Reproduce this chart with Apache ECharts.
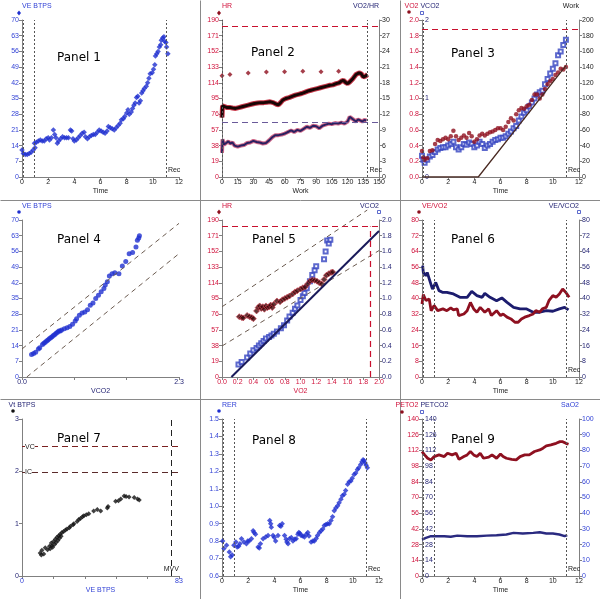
<!DOCTYPE html>
<html><head><meta charset="utf-8">
<script src="https://cdn.jsdelivr.net/npm/echarts@6/dist/echarts.min.js"></script>
<style>html,body{margin:0;padding:0;background:#fff}#c{width:600px;height:599px}</style>
</head><body><div id="c"></div>
<script>
// ---------------- DATA ----------------
// Panel 1: time (min) vs VE BTPS
const p1VE = [[0.0,12],[0.1,10.5],[0.25,10],[0.4,10],[0.55,10.5],[0.7,11],[0.85,12],[0.95,15],[1.0,13],[1.1,15.5],[1.25,16],[1.4,16.5],[1.55,16],[1.7,16],[1.85,17],[2.0,17.5],[2.1,16.5],[2.25,17.5],[2.4,21],[2.5,19],[2.6,17.5],[2.7,15],[2.8,16],[2.95,17],[3.1,18],[3.25,17.5],[3.4,17.5],[3.55,17.5],[3.7,21],[3.8,20.5],[3.9,17],[4.0,16],[4.15,16.5],[4.3,17.5],[4.45,18.5],[4.6,19.5],[4.75,20],[4.85,18],[5.0,17],[5.15,18],[5.3,18.5],[5.45,19],[5.6,19],[5.75,20],[5.9,21],[6.05,20.5],[6.2,20],[6.35,19.5],[6.5,20.5],[6.6,22.5],[6.75,22],[6.9,21.5],[7.05,21],[7.2,22],[7.35,23],[7.5,24],[7.6,25.5],[7.75,26],[7.85,27],[8.0,28.5],[8.1,30],[8.2,28],[8.35,29],[8.45,30.5],[8.55,32],[8.65,33],[8.75,35.5],[8.85,36],[8.95,33],[9.05,34],[9.15,37.5],[9.25,38.5],[9.35,39.5],[9.5,40.5],[9.6,42],[9.7,44],[9.8,46],[9.95,46.5],[10.05,48],[10.15,50],[10.2,54],[10.3,55],[10.4,56],[10.5,58],[10.6,59],[10.65,61],[10.75,62],[10.85,62.5],[10.9,60.5],[11.0,60],[11.05,58],[11.15,55]];
const p1Marks = [0.08, 0.95, 11.0];

// Panel 2: work vs HR, VO2/HR, and HR marker diamonds
const p2HR = [[0,72],[0.5,86],[2,84],[5,84],[8,84],[10,83.5],[13,83],[16,84],[19,85],[22,86],[25,87],[28,88],[31,89],[34,89.5],[37,90],[40,90],[43,90.5],[46,91],[49,90],[52,88],[54,87.5],[56,90],[58,93],[61,95],[64,96],[67,97.5],[70,99],[73,100],[76,101],[79,102.5],[82,104],[85,105],[88,106],[91,107],[94,108],[97,109],[100,110],[103,111],[106,111.5],[109,113],[112,114],[114,116],[116,117],[118,114.5],[120,113],[122,115],[125,119],[128,124],[131,126],[133,125],[135,121],[137,122],[139,124]];
const p2VO2HR = [[0,4.6],[0.5,7.2],[2,6.2],[4,6.5],[6,6.8],[8,6.4],[10,6.6],[12,6.0],[15,5.8],[18,6.0],[21,6.1],[24,6.5],[27,6.6],[30,6.9],[33,6.7],[36,6.6],[39,6.4],[42,6.5],[45,7.0],[48,7.6],[51,8.0],[54,8.0],[57,8.1],[60,8.3],[63,8.6],[66,8.9],[69,8.6],[72,9.0],[75,8.8],[78,9.2],[81,9.6],[84,9.4],[87,9.8],[90,9.7],[93,9.3],[96,9.8],[99,10.0],[102,10.2],[105,10.1],[108,10.3],[111,10.2],[114,10.4],[117,10.2],[120,10.6],[122,11.5],[124,11.2],[126,10.9],[128,10.6],[130,11.0],[132,10.8],[134,10.6],[136,10.9],[138,10.8]];
const p2Diamonds = [[0,122.5],[7.6,124],[25,126],[42.4,127],[59.8,127.5],[77.2,128],[94.6,127.5],[111.4,128]];
const p2HRMax = 182, p2VO2HRRef = 10.5, p2Marks = [0.5, 139];

// Panel 3: time vs VO2, VCO2, Work
const p3VO2 = [[0,0.33],[0.1,0.25],[0.2,0.22],[0.4,0.24],[0.6,0.33],[0.8,0.34],[1.0,0.42],[1.2,0.47],[1.4,0.46],[1.6,0.48],[1.8,0.50],[2.0,0.48],[2.2,0.52],[2.4,0.59],[2.6,0.52],[2.8,0.47],[3.0,0.50],[3.2,0.53],[3.4,0.50],[3.6,0.56],[3.8,0.52],[4.0,0.45],[4.2,0.48],[4.4,0.53],[4.6,0.55],[4.8,0.53],[5.0,0.55],[5.2,0.57],[5.4,0.58],[5.6,0.60],[5.8,0.62],[6.0,0.62],[6.2,0.60],[6.4,0.64],[6.6,0.70],[6.8,0.75],[7.0,0.72],[7.2,0.80],[7.4,0.85],[7.6,0.88],[7.8,0.87],[8.0,0.90],[8.2,0.92],[8.4,0.98],[8.6,1.05],[8.8,1.05],[9.0,1.00],[9.2,1.05],[9.4,1.12],[9.6,1.18],[9.8,1.22],[10.0,1.25],[10.2,1.30],[10.4,1.33],[10.6,1.38],[10.8,1.37],[11.0,1.40]];
const p3VCO2 = [[0,0.27],[0.1,0.22],[0.2,0.18],[0.4,0.22],[0.6,0.26],[0.8,0.28],[1.0,0.32],[1.2,0.35],[1.4,0.37],[1.6,0.38],[1.8,0.38],[2.0,0.40],[2.2,0.42],[2.4,0.45],[2.6,0.38],[2.8,0.35],[3.0,0.38],[3.2,0.42],[3.4,0.41],[3.6,0.44],[3.8,0.42],[4.0,0.38],[4.2,0.40],[4.4,0.45],[4.6,0.42],[4.8,0.37],[5.0,0.40],[5.2,0.42],[5.4,0.45],[5.6,0.47],[5.8,0.48],[6.0,0.50],[6.2,0.50],[6.4,0.52],[6.6,0.55],[6.8,0.58],[7.0,0.62],[7.2,0.65],[7.4,0.72],[7.6,0.77],[7.8,0.82],[8.0,0.85],[8.2,0.90],[8.4,0.95],[8.6,1.00],[8.8,1.05],[9.0,1.08],[9.2,1.10],[9.4,1.18],[9.6,1.25],[9.8,1.32],[10.0,1.38],[10.2,1.45],[10.4,1.55],[10.6,1.60],[10.8,1.68],[11.0,1.75]];
const p3Work = [[0,0],[4.3,0],[11,142]];
const p3VO2Max = 1.88, p3Marks = [0.08, 11.0];

// Panel 4: VCO2 vs VE BTPS
const p4VE = [[0.14,10],[0.17,10.5],[0.2,11],[0.24,12.5],[0.26,13],[0.3,14.5],[0.32,15],[0.34,15.5],[0.36,16],[0.38,16.5],[0.4,17],[0.42,17.5],[0.44,18],[0.46,18.5],[0.48,19],[0.5,19.5],[0.52,20],[0.54,20.5],[0.56,20.5],[0.58,21],[0.62,21.5],[0.66,22],[0.7,22.5],[0.74,23.5],[0.78,25],[0.8,26],[0.84,27.5],[0.88,28.5],[0.92,29],[0.96,30],[1.0,32],[1.04,33],[1.08,35],[1.12,36.5],[1.16,38],[1.2,39.5],[1.22,41],[1.25,42.5],[1.28,45],[1.32,46],[1.36,46.5],[1.42,46],[1.47,49.5],[1.52,51.5],[1.57,55],[1.62,55.5],[1.67,58],[1.69,61],[1.71,62],[1.72,63]];
const p4RefUpper = [[0,12.5],[2.3,68.5]];
const p4RefLower = [[0.07,0],[2.3,55]];

// Panel 5: VO2 vs HR and VCO2
const p5HR = [[0.22,73],[0.25,72],[0.27,71.5],[0.32,74.5],[0.35,73],[0.38,72],[0.4,70.5],[0.44,80],[0.46,84],[0.48,86],[0.5,83],[0.52,85],[0.54,82],[0.56,86],[0.58,84],[0.6,85],[0.62,87],[0.64,84],[0.66,88],[0.7,92],[0.74,91],[0.77,93.5],[0.8,95],[0.83,96.5],[0.86,98],[0.9,100.5],[0.93,103],[0.96,104.5],[1.0,106.5],[1.03,108],[1.06,109],[1.09,112.5],[1.12,116],[1.15,117.5],[1.18,117],[1.21,116],[1.24,114],[1.27,112.5],[1.3,118],[1.33,123],[1.36,125],[1.39,126.5],[1.41,127]];
const p5VCO2 = [[0.21,0.16],[0.25,0.19],[0.32,0.25],[0.36,0.3],[0.4,0.34],[0.44,0.37],[0.47,0.4],[0.5,0.43],[0.53,0.46],[0.56,0.49],[0.6,0.51],[0.63,0.53],[0.66,0.55],[0.7,0.58],[0.75,0.62],[0.79,0.66],[0.83,0.72],[0.86,0.77],[0.9,0.82],[0.93,0.87],[0.96,0.91],[1.0,0.98],[1.03,1.03],[1.05,1.07],[1.08,1.13],[1.12,1.22],[1.15,1.3],[1.18,1.36],[1.2,1.41],[1.3,1.5],[1.32,1.6],[1.34,1.74],[1.36,1.7],[1.38,1.75]];
const p5RefUpper = [[0,85],[1.85,202]];
const p5RefLower = [[0,37.5],[2.0,153]];
const p5Unity = [[0.12,0],[2.0,1.86]];
const p5HRMax = 182, p5VO2Max = 1.89;

// Panel 6: time vs VE/VO2, VE/VCO2
const p6VEVO2 = [[0,37.2],[0.1,42],[0.3,39],[0.55,39.8],[0.7,33.8],[0.93,36.4],[1.2,33.8],[1.6,34.7],[1.9,33.8],[2.2,35.2],[2.4,34.2],[2.7,34.7],[2.8,31.3],[3.2,32.1],[3.45,33.8],[3.7,38],[3.95,34.7],[4.2,33],[4.45,35.5],[4.8,33],[5.1,34.7],[5.3,31.3],[5.7,33.8],[6.0,31.3],[6.2,32.1],[6.5,30.5],[6.8,29.6],[7.1,27.9],[7.35,27.9],[7.6,29.6],[7.85,30.5],[8.2,31.3],[8.5,32.1],[8.7,33.8],[9.0,33],[9.2,34.7],[9.5,35.5],[9.7,38.9],[10.0,41.5],[10.25,40.6],[10.5,42.3],[10.75,44.8],[11.0,43.1],[11.25,40.6]];
const p6VEVCO2 = [[0.05,56.7],[0.1,53.3],[0.3,51.6],[0.4,53.3],[0.6,49],[0.8,44.8],[1.05,48.2],[1.3,44],[1.6,43.1],[1.9,43.1],[2.4,42.3],[2.9,40.6],[3.45,40.6],[3.8,43.6],[4.2,41.5],[4.6,40.6],[4.8,42.6],[5.2,40.6],[5.7,38.9],[6.1,40.3],[6.5,38],[7.0,35.5],[7.5,34.7],[8.0,34.7],[8.5,33],[9.0,33],[9.5,33.8],[10.0,33.5],[10.5,34.7],[10.9,35.5],[11.2,34.2]];
const p6Marks = [0.08, 0.95, 11.0];

// Panel 7: VE BTPS vs Vt BTPS
const p7Vt = [[9.6,0.44],[10.2,0.4],[10.5,0.49],[11.5,0.42],[12.3,0.54],[13.5,0.5],[14.5,0.57],[14.9,0.52],[15.5,0.63],[15.8,0.58],[16.2,0.55],[16.7,0.66],[17.2,0.6],[17.6,0.7],[18,0.64],[18.5,0.74],[19,0.68],[19.4,0.77],[19.8,0.72],[20.2,0.8],[20.7,0.76],[21.1,0.83],[22,0.85],[23,0.88],[23.8,0.9],[25,0.92],[25.6,0.95],[27,0.98],[27.4,1.0],[29.1,1.04],[30,1.08],[30.9,1.1],[32,1.13],[32.7,1.15],[34,1.17],[35.3,1.19],[37.9,1.24],[39.8,1.27],[41.6,1.24],[45.1,1.3],[45.5,1.33],[49.5,1.43],[51,1.44],[52.2,1.47],[54,1.53],[55,1.52],[56.6,1.51],[59.3,1.5],[61.1,1.47],[62,1.45]];
const p7VC = 2.47, p7IC = 1.98, p7MVV = 78.9;

// Panel 8: time vs RER
const p8RER = [[0.05,0.80],[0.15,0.757],[0.35,0.776],[0.56,0.738],[0.66,0.71],[0.78,0.72],[0.91,0.776],[1.06,0.795],[1.16,0.766],[1.27,0.77],[1.37,0.785],[1.49,0.814],[1.67,0.795],[1.87,0.785],[1.97,0.80],[2.08,0.80],[2.25,0.814],[2.38,0.86],[2.45,0.85],[2.56,0.84],[2.76,0.766],[2.85,0.76],[2.94,0.785],[3.14,0.814],[3.34,0.823],[3.52,0.832],[3.65,0.918],[3.72,0.9],[3.77,0.88],[3.9,0.832],[4.0,0.82],[4.1,0.80],[4.28,0.832],[4.4,0.89],[4.5,0.885],[4.6,0.90],[4.78,0.832],[4.9,0.81],[4.96,0.795],[5.05,0.785],[5.16,0.814],[5.3,0.82],[5.42,0.80],[5.55,0.81],[5.67,0.814],[5.8,0.84],[5.87,0.85],[5.95,0.845],[6.05,0.832],[6.18,0.83],[6.3,0.823],[6.45,0.84],[6.56,0.85],[6.65,0.83],[6.81,0.795],[6.95,0.80],[7.06,0.80],[7.2,0.815],[7.3,0.832],[7.45,0.85],[7.57,0.86],[7.7,0.87],[7.82,0.89],[7.95,0.895],[8.08,0.90],[8.2,0.90],[8.33,0.918],[8.45,0.94],[8.58,0.974],[8.7,0.99],[8.84,1.003],[8.95,1.02],[9.09,1.04],[9.2,1.06],[9.34,1.069],[9.45,1.09],[9.6,1.126],[9.72,1.14],[9.85,1.145],[9.95,1.16],[10.1,1.182],[10.22,1.19],[10.35,1.21],[10.45,1.22],[10.6,1.239],[10.7,1.255],[10.78,1.267],[10.86,1.26],[10.94,1.248],[11.02,1.235],[11.11,1.22]];
const p8Marks = [0.08, 0.95, 11.0];

// Panel 9: time vs PETO2, PETCO2
const p9PETO2 = [[0,111],[0.2,108],[0.43,105],[0.68,103.5],[0.93,106.5],[1.3,108],[1.7,106.5],[1.95,109.5],[2.3,108],[2.6,109.5],[2.83,104],[3.2,106.5],[3.45,108],[3.7,111],[3.95,108],[4.2,106.5],[4.45,109.5],[4.7,105],[5.1,106],[5.35,108],[5.7,105],[6.0,108.8],[6.2,106.5],[6.45,105],[6.85,104],[7.2,103.5],[7.5,106.5],[7.85,108],[8.2,108],[8.6,111],[9.0,112.4],[9.25,114],[9.5,116],[9.85,116.9],[10.25,118.3],[10.55,119.8],[10.75,119.8],[11.0,118.3],[11.2,117.5]];
const p9PETCO2 = [[0,32.5],[0.3,34],[0.68,35.5],[1.2,35.5],[1.7,35.5],[2.2,35],[2.7,36],[3.45,35.5],[4.2,35.5],[4.95,36],[5.7,36.4],[6.45,37],[7.0,38.5],[7.7,37.9],[8.5,38.5],[9.0,39],[9.5,37.9],[10.0,37.9],[10.5,37],[10.9,35.5],[11.1,36.4]];
const p9Marks = [0.08, 0.95, 11.0];

// ---------------- STYLE / BUILD ----------------
const FF = 'Liberation Sans, Arial, sans-serif';
const AX = '#808080', RED = '#d0103a', BLUE = '#3343d6', NAVY = '#1e1e70', DARK = '#222', DRED = '#8e0f1e', SQB = '#3444c0';
const rowY = [0, 200, 399], colX = [0, 200, 400];
const grids = [], xAxes = [], yAxes = [], series = [];

function addGrid(c, r) {
  grids.push({left: colX[c] + 22, top: rowY[r] + 20, width: 157, height: 157, outerBoundsMode: 'none', containLabel: false});
  return grids.length - 1;
}
function lab(color, extra) { return Object.assign({fontSize: 7, fontFamily: FF, color: color, margin: 3}, extra || {}); }
function xAx(g, min, max, interval, name, lc, nc, extra) {
  xAxes.push(Object.assign({
    type: 'value', gridIndex: g, min, max, interval, name,
    nameLocation: 'middle', nameGap: 11,
    nameTextStyle: {fontSize: 7, fontFamily: FF, color: nc, verticalAlign: 'top'},
    axisLine: {show: true, onZero: false, lineStyle: {color: AX, width: 1}},
    axisTick: {show: true, length: 3, lineStyle: {color: AX}},
    axisLabel: lab(lc, {margin: 2}),
    splitLine: {show: false}
  }, extra || {}));
  return xAxes.length - 1;
}
function yAx(g, min, max, interval, name, lc, nc, pos, align, extra) {
  yAxes.push(Object.assign({
    type: 'value', gridIndex: g, min, max, interval, name, position: pos,
    nameLocation: 'end', nameGap: 14,
    nameTextStyle: {fontSize: 7, fontFamily: FF, color: nc, align: align, verticalAlign: 'middle'},
    axisLine: {show: true, onZero: false, lineStyle: {color: AX, width: 1}},
    axisTick: {show: true, length: 3, lineStyle: {color: AX}},
    axisLabel: lab(lc),
    splitLine: {show: false}
  }, extra || {}));
  return yAxes.length - 1;
}
const DOT = {type: [2, 2], color: '#555', width: 1};
const RDASH = {type: [6, 4], color: '#c8102e', width: 1.2};
function vMarks(xs, style) { return xs.map(v => ({xAxis: v, lineStyle: style || DOT})); }
function ml(data) { return {silent: true, symbol: ['none', 'none'], animation: false, label: {show: false}, data: data}; }
function add(s) { series.push(Object.assign({animation: false, silent: true}, s)); return series[series.length - 1]; }
const fix1 = v => v.toFixed(1);

// Panel 1
const g1 = addGrid(0, 0);
const x1 = xAx(g1, 0, 12, 2, 'Time', DARK, DARK);
const y1 = yAx(g1, 0, 70, 7, 'VE BTPS', BLUE, BLUE, 'left', 'left');
add({type: 'scatter', xAxisIndex: x1, yAxisIndex: y1, data: p1VE, symbol: 'diamond', symbolSize: 5.5, itemStyle: {color: '#1f2fd0'}, markLine: ml(vMarks(p1Marks))});

// Panel 2
const g2 = addGrid(1, 0);
const x2 = xAx(g2, 0, 150, 15, 'Work', DARK, DARK);
const y2L = yAx(g2, 0, 190, 19, 'HR', RED, RED, 'left', 'left');
const y2R = yAx(g2, 0, 30, 3, 'VO2/HR', DARK, NAVY, 'right', 'right');
add({type: 'line', xAxisIndex: x2, yAxisIndex: y2L, data: p2HR, showSymbol: false, lineStyle: {color: '#c8384a', width: 5},
  markLine: ml([{yAxis: p2HRMax, lineStyle: RDASH}].concat(vMarks(p2Marks)))});
add({type: 'line', xAxisIndex: x2, yAxisIndex: y2L, data: p2HR, showSymbol: false, lineStyle: {color: '#1a0505', width: 3}});
add({type: 'line', xAxisIndex: x2, yAxisIndex: y2R, data: p2VO2HR, showSymbol: false, lineStyle: {color: '#d06a8a', width: 4},
  markLine: ml([{yAxis: p2VO2HRRef, lineStyle: {type: [6, 4], color: '#6a5a9a', width: 1.2}}])});
add({type: 'line', xAxisIndex: x2, yAxisIndex: y2R, data: p2VO2HR, showSymbol: false, lineStyle: {color: '#2a2060', width: 2}});
add({type: 'scatter', xAxisIndex: x2, yAxisIndex: y2L, data: p2Diamonds, symbol: 'diamond', symbolSize: 5, itemStyle: {color: DRED}});

// Panel 3
const g3 = addGrid(2, 0);
const x3 = xAx(g3, 0, 12, 2, 'Time', DARK, DARK);
const y3L = yAx(g3, 0, 2, 0.2, '{a|VO2} {b|VCO2}', RED, RED, 'left', 'center', {axisLabel: lab(RED, {formatter: fix1})});
yAxes[y3L].nameTextStyle.rich = {a: {fontSize: 7, fontFamily: FF, color: RED}, b: {fontSize: 7, fontFamily: FF, color: NAVY}};
const y3V = yAx(g3, 0, 2, 1, '', NAVY, NAVY, 'left', 'left', {axisLine: {show: false}, axisTick: {show: true, inside: true, length: 2, lineStyle: {color: AX}}, axisLabel: lab(NAVY, {inside: true, margin: 3})});
const y3R = yAx(g3, 0, 200, 20, 'Work', DARK, DARK, 'right', 'right');
add({type: 'line', xAxisIndex: x3, yAxisIndex: y3R, data: p3Work, showSymbol: false, lineStyle: {color: '#4a2a22', width: 1.3},
  markLine: ml(vMarks(p3Marks))});
add({type: 'scatter', xAxisIndex: x3, yAxisIndex: y3V, data: p3VCO2, symbol: 'emptyRect', symbolSize: 4, itemStyle: {color: SQB, borderColor: SQB, borderWidth: 1}});
add({type: 'scatter', xAxisIndex: x3, yAxisIndex: y3L, data: p3VO2, symbol: 'circle', symbolSize: 4.5, itemStyle: {color: DRED},
  markLine: ml([{yAxis: p3VO2Max, lineStyle: RDASH}])});

// Panel 4
const g4 = addGrid(0, 1);
const x4 = xAx(g4, 0, 2.3, 2.3 / 3, 'VCO2', NAVY, NAVY, {axisLabel: lab(NAVY, {margin: 2, formatter: v => (Math.abs(v) < 1e-6 ? '0.0' : (Math.abs(v - 2.3) < 1e-3 ? '2.3' : ''))})});
const y4 = yAx(g4, 0, 70, 7, 'VE BTPS', BLUE, BLUE, 'left', 'left');
const REFDASH = {type: [5, 4], color: '#6b5b50', width: 1};
add({type: 'line', xAxisIndex: x4, yAxisIndex: y4, data: p4RefUpper, showSymbol: false, lineStyle: REFDASH});
add({type: 'line', xAxisIndex: x4, yAxisIndex: y4, data: p4RefLower, showSymbol: false, lineStyle: REFDASH});
add({type: 'scatter', xAxisIndex: x4, yAxisIndex: y4, data: p4VE, symbol: 'circle', symbolSize: 5, itemStyle: {color: '#1f2fd0'}});

// Panel 5
const g5 = addGrid(1, 1);
const x5 = xAx(g5, 0, 2, 0.2, 'VO2', RED, RED, {axisLabel: lab(RED, {margin: 2, formatter: fix1})});
const y5L = yAx(g5, 0, 190, 19, 'HR', RED, RED, 'left', 'left');
const y5R = yAx(g5, 0, 2, 0.2, 'VCO2', NAVY, NAVY, 'right', 'right', {axisLabel: lab(NAVY, {formatter: fix1})});
add({type: 'line', xAxisIndex: x5, yAxisIndex: y5L, data: p5RefUpper, showSymbol: false, clip: false, lineStyle: REFDASH,
  markLine: ml([{yAxis: p5HRMax, lineStyle: RDASH}, [{coord: [p5VO2Max, 0], lineStyle: RDASH}, {coord: [p5VO2Max, p5HRMax]}]])});
add({type: 'line', xAxisIndex: x5, yAxisIndex: y5L, data: p5RefLower, showSymbol: false, lineStyle: REFDASH});
add({type: 'line', xAxisIndex: x5, yAxisIndex: y5R, data: p5Unity, showSymbol: false, lineStyle: {color: '#1a1a5a', width: 2}});
add({type: 'scatter', xAxisIndex: x5, yAxisIndex: y5R, data: p5VCO2, symbol: 'emptyRect', symbolSize: 4, itemStyle: {color: SQB, borderColor: SQB, borderWidth: 1}});
add({type: 'scatter', xAxisIndex: x5, yAxisIndex: y5L, data: p5HR, symbol: 'diamond', symbolSize: 6, itemStyle: {color: '#3a0508', borderColor: '#d04050', borderWidth: 0.8}});

// Panel 6
const g6 = addGrid(2, 1);
const x6 = xAx(g6, 0, 12, 2, 'Time', DARK, DARK);
const y6L = yAx(g6, 0, 80, 8, 'VE/VO2', RED, RED, 'left', 'left');
const y6R = yAx(g6, 0, 80, 8, 'VE/VCO2', NAVY, NAVY, 'right', 'right');
add({type: 'line', xAxisIndex: x6, yAxisIndex: y6R, data: p6VEVCO2, showSymbol: false, lineStyle: {color: '#1c1c6e', width: 2.8}, markLine: ml(vMarks(p6Marks))});
add({type: 'line', xAxisIndex: x6, yAxisIndex: y6L, data: p6VEVO2, showSymbol: false, lineStyle: {color: '#8e1020', width: 2.8}});

// Panel 7
const g7 = addGrid(0, 2);
const x7 = xAx(g7, 0, 83, 16.6, 'VE BTPS', BLUE, BLUE, {axisLabel: lab(BLUE, {margin: 2, formatter: v => (v === 0 ? '0' : (Math.abs(v - 83) < 1e-3 ? '83' : ''))})});
const y7 = yAx(g7, 0, 3, 1, 'Vt BTPS', NAVY, NAVY, 'left', 'center');
add({type: 'scatter', xAxisIndex: x7, yAxisIndex: y7, data: p7Vt, symbol: 'diamond', symbolSize: 5, itemStyle: {color: '#111'},
  markLine: ml([{yAxis: p7VC, lineStyle: {type: [6, 4], color: '#7a2020', width: 1}}, {yAxis: p7IC, lineStyle: {type: [6, 4], color: '#5a2a2a', width: 1}}, {xAxis: p7MVV, lineStyle: {type: [6, 4], color: '#222', width: 1}}])});

// Panel 8
const g8 = addGrid(1, 2);
const x8 = xAx(g8, 0, 12, 2, 'Time', DARK, DARK);
const y8 = yAx(g8, 0.6, 1.5, 0.1, 'RER', BLUE, BLUE, 'left', 'left', {axisLabel: lab(BLUE, {formatter: fix1})});
add({type: 'scatter', xAxisIndex: x8, yAxisIndex: y8, data: p8RER, symbol: 'diamond', symbolSize: 5.5, itemStyle: {color: '#1f2fd0'}, markLine: ml(vMarks(p8Marks))});

// Panel 9
const g9 = addGrid(2, 2);
const x9 = xAx(g9, 0, 12, 2, 'Time', DARK, DARK);
const y9L = yAx(g9, 0, 140, 14, '{a|PETO2} {b|PETCO2}', RED, RED, 'left', 'center');
yAxes[y9L].nameTextStyle.rich = {a: {fontSize: 7, fontFamily: FF, color: RED}, b: {fontSize: 7, fontFamily: FF, color: NAVY}};
const y9C = yAx(g9, 0, 140, 14, '', NAVY, NAVY, 'left', 'left', {axisLine: {show: false}, axisTick: {show: true, inside: true, length: 2, lineStyle: {color: AX}}, axisLabel: lab(NAVY, {inside: true, margin: 3})});
const y9R = yAx(g9, 0, 100, 10, 'SaO2', BLUE, BLUE, 'right', 'right');
add({type: 'line', xAxisIndex: x9, yAxisIndex: y9C, data: p9PETCO2, showSymbol: false, lineStyle: {color: '#2a2a80', width: 2.4}, markLine: ml(vMarks(p9Marks))});
add({type: 'line', xAxisIndex: x9, yAxisIndex: y9L, data: p9PETO2, showSymbol: false, lineStyle: {color: '#8e1020', width: 2.8}});

const chart = echarts.init(document.getElementById('c'), null, {renderer: 'canvas'});
chart.setOption({backgroundColor: '#fff', animation: false, grid: grids, xAxis: xAxes, yAxis: yAxes, series: series});

// ---------------- ANNOTATIONS ----------------
const gr = [];
function txt(x, y, t, color, font, align, valign, bg) {
  gr.push({type: 'text', x: x, y: y, silent: true, z: 100, style: {text: t, fill: color, font: font, textAlign: align, textVerticalAlign: valign, align: align, verticalAlign: valign, backgroundColor: bg}});
}
function px(xi, yi, pt) { return chart.convertToPixel({xAxisIndex: xi, yAxisIndex: yi}, pt); }
// separators
[[200, 0, 200, 599], [400, 0, 400, 599], [0, 200, 600, 200], [0, 399, 600, 399]].forEach(l => gr.push({type: 'line', silent: true, shape: {x1: l[0] + 0.5, y1: l[1] + 0.5, x2: l[2] + 0.5, y2: l[3] + 0.5}, style: {stroke: '#8a8a8a', lineWidth: 1}}));
// titles
const TF = '12px DejaVu Sans';
[[57, 58, 'Panel 1'], [251, 52.5, 'Panel 2'], [451, 53.5, 'Panel 3'], [57, 240, 'Panel 4'], [252, 240, 'Panel 5'], [451, 240, 'Panel 6'], [57, 439, 'Panel 7'], [252, 440.5, 'Panel 8'], [451, 439.5, 'Panel 9']]
  .forEach(t => txt(t[0], t[1], t[2], '#000', TF, 'left', 'middle'));
// Rec labels
const SF = '7px Liberation Sans';
[[x1, y1, 11.0], [x3, y3L, 11.0], [x6, y6L, 11.0], [x8, y8, 11.0], [x9, y9L, 11.0], [x2, y2L, 139]].forEach(r => {
  const p = px(r[0], r[1], [r[2], r[1] === y8 ? 0.6 : 0]);
  txt(p[0] + 2, p[1] - 7, 'Rec', '#222', SF, 'left', 'middle');
});
// Panel 7 labels
(function () {
  const a = px(x7, y7, [0, p7VC]), b = px(x7, y7, [0, p7IC]), m = px(x7, y7, [p7MVV, 0]);
  txt(a[0] + 3, a[1], 'VC', '#222', SF, 'left', 'middle', '#fff');
  txt(b[0] + 3, b[1], 'IC', '#222', SF, 'left', 'middle', '#fff');
  txt(m[0], m[1] - 7, 'MVV', '#222', SF, 'center', 'middle');
})();
// small series symbols beside axis names
function dot(x, y, c) { gr.push({type: 'circle', silent: true, shape: {cx: x, cy: y, r: 1.8}, style: {fill: c}}); }
function sq(x, y, c) { gr.push({type: 'rect', silent: true, shape: {x: x - 1.5, y: y - 1.5, width: 3, height: 3}, style: {fill: '#fff', stroke: c, lineWidth: 0.8}}); }
function dia(x, y, c) { gr.push({type: 'polygon', silent: true, shape: {points: [[x, y - 2.5], [x + 2, y], [x, y + 2.5], [x - 2, y]]}, style: {fill: c}}); }
dia(19, 13, '#1f2fd0'); dia(219, 13, DRED); dot(409, 12, DRED); sq(422, 13, SQB);
dot(19, 212, '#1f2fd0'); dia(219, 212, DRED); sq(379, 212, SQB); dot(419, 212, DRED); sq(579, 212, SQB);
dot(13, 411, '#111'); dot(219, 411, '#1f2fd0'); dot(402, 412, DRED); sq(422, 412, SQB);
chart.setOption({graphic: gr});
</script>
</body></html>
